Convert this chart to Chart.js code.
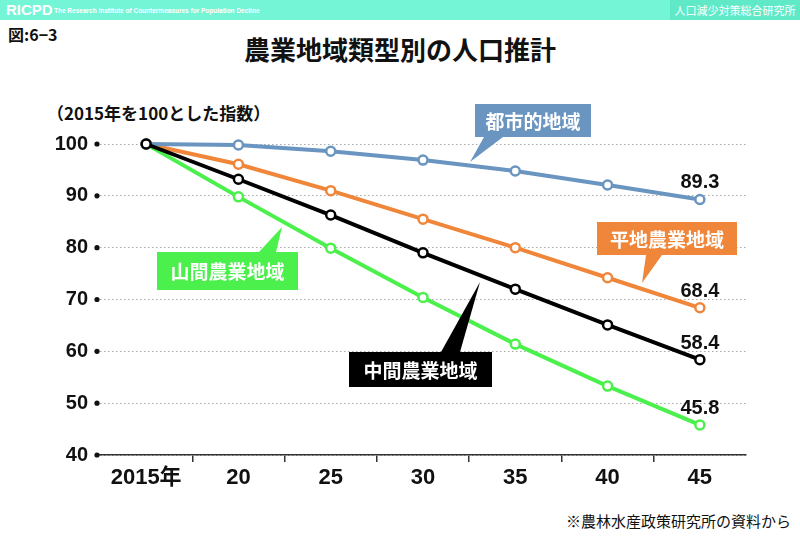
<!DOCTYPE html>
<html lang="ja">
<head>
<meta charset="utf-8">
<script src="https://cdn.jsdelivr.net/npm/chart.js@4"></script>
<style>
  body { margin: 0; background: #fff; font-family: "Noto Sans CJK JP", "Noto Sans", sans-serif; }
  #wrap { position: relative; width: 800px; height: 538px; overflow: hidden; }
  #chart { position: absolute; left: 0; top: 0; }
  .bar { position: absolute; left: 0; top: 0; width: 800px; height: 20px; background: #74f5d6; }
  .bar .logo { position: absolute; left: 6px; top: 0px; color: #fff; font: bold 15px "Liberation Sans", sans-serif; line-height: 20px; }
  .bar .sub { position: absolute; left: 54px; top: 6px; color: #fff; font: bold 6.5px "Liberation Sans Narrow", "Liberation Sans", sans-serif; line-height: 10px; }
  .bar .inst { position: absolute; right: 0; top: 0; width: 130px; height: 20px; background: #5fe9c7; color: #fff; font-size: 11px; line-height: 20px; text-align: center; }
  .fig { position: absolute; left: 8px; top: 22px; font-size: 16px; font-weight: bold; color: #111; }
  .title { position: absolute; left: 0; width: 800px; top: 30px; text-align: center; font-size: 26px; font-weight: bold; color: #111; }
  .unit { position: absolute; left: 47px; top: 100px; font-size: 17px; font-weight: bold; color: #111; }
  .note { position: absolute; right: 9px; top: 510px; font-size: 15px; color: #111; }
</style>
</head>
<body>
<div id="wrap">
  <div class="bar">
    <span class="logo">RICPD</span>
    <span class="sub">The Research Institute of Countermeasures for Population Decline</span>
    <span class="inst">人口減少対策総合研究所</span>
  </div>
  <div class="fig">図:6−3</div>
  <div class="title">農業地域類型別の人口推計</div>
  <div class="unit">（2015年を100とした指数）</div>
  <div class="note">※農林水産政策研究所の資料から</div>
  <canvas id="chart" width="800" height="538"></canvas>
</div>
<script>
const years = ['2015年', '20', '25', '30', '35', '40', '45'];
const urban = [100, 99.8, 98.6, 96.9, 94.8, 92.1, 89.3];
const flatFarm = [100, 96.1, 91.0, 85.5, 80.0, 74.2, 68.4];
const middleFarm = [100, 93.2, 86.3, 79.0, 72.0, 65.1, 58.4];
const mountainFarm = [100, 89.8, 79.9, 70.4, 61.4, 53.3, 45.8];
const yTicks = [40, 50, 60, 70, 80, 90, 100];

const BLUE = '#6a95c0', ORANGE = '#f0863a', BLACK = '#000', GREEN = '#4cf04c';

function line(label, data, color) {
  return {
    label, data,
    borderColor: color,
    borderWidth: 4,
    pointRadius: 4.5,
    pointBorderWidth: 2.5,
    pointBackgroundColor: '#fff',
    pointBorderColor: color,
    tension: 0,
    clip: false
  };
}

// callout boxes with a pointer
const callouts = [
  { text: '都市的地域', bg: BLUE, box: [475, 104, 116, 33], tri: [[484, 137], [503, 137], [470, 162]] },
  { text: '平地農業地域', bg: ORANGE, box: [597, 222, 140, 33], tri: [[646, 255], [662, 255], [642, 283]] },
  { text: '山間農業地域', bg: GREEN, box: [157, 252, 141, 38], tri: [[259, 252], [276, 252], [282, 227]] },
  { text: '中間農業地域', bg: BLACK, box: [349, 352, 143, 35], tri: [[441, 352], [460, 352], [480, 282]] }
];

const extras = {
  id: 'extras',
  afterDatasetsDraw(chart) {
    const ctx = chart.ctx;
    const y = chart.scales.y;
    const left = chart.chartArea.left;
    ctx.save();
    // bullets on the y axis
    ctx.fillStyle = '#111';
    yTicks.forEach(v => {
      ctx.beginPath();
      ctx.arc(left - 3, y.getPixelForValue(v), 2.6, 0, Math.PI * 2);
      ctx.fill();
    });
    // end values
    ctx.font = 'bold 20px "Liberation Sans", sans-serif';
    ctx.textAlign = 'center';
    ctx.textBaseline = 'alphabetic';
    chart.data.datasets.forEach((ds, i) => {
      const pts = chart.getDatasetMeta(i).data;
      const p = pts[pts.length - 1];
      const v = ds.data[ds.data.length - 1];
      ctx.fillStyle = '#111';
      ctx.fillText(v.toFixed(1), p.x, p.y - 11);
    });
    // callouts
    ctx.font = 'bold 19px "Noto Sans CJK JP", sans-serif';
    ctx.textBaseline = 'middle';
    callouts.forEach(c => {
      ctx.fillStyle = c.bg;
      ctx.beginPath();
      ctx.moveTo(c.tri[0][0], c.tri[0][1]);
      ctx.lineTo(c.tri[1][0], c.tri[1][1]);
      ctx.lineTo(c.tri[2][0], c.tri[2][1]);
      ctx.closePath();
      ctx.fill();
      const [bx, by, bw, bh] = c.box;
      ctx.fillRect(bx, by, bw, bh);
      ctx.fillStyle = '#fff';
      ctx.fillText(c.text, bx + bw / 2, by + bh / 2 + 1);
    });
    ctx.restore();
  }
};

new Chart(document.getElementById('chart'), {
  type: 'line',
  data: {
    labels: years,
    datasets: [
      line('中間農業地域', middleFarm, BLACK),
      line('都市的地域', urban, BLUE),
      line('平地農業地域', flatFarm, ORANGE),
      line('山間農業地域', mountainFarm, GREEN)
    ]
  },
  options: {
    responsive: false,
    animation: false,
    layout: { padding: { top: 144, right: 54, bottom: 43, left: 0 } },
    plugins: { legend: { display: false }, tooltip: { enabled: false } },
    scales: {
      x: {
        offset: true,
        afterFit: s => { s.height = 40; },
        grid: {
          offset: true,
          drawOnChartArea: false,
          drawTicks: true,
          tickLength: 7,
          lineWidth: 1.5,
          color: c => (c.index === undefined || c.index === 0) ? 'rgba(0,0,0,0)' : '#333'
        },
        border: { display: true, color: '#333', width: 1.5 },
        ticks: {
          color: '#111',
          padding: 3,
          maxRotation: 0,
          font: { family: '"Liberation Sans Narrow", "Liberation Sans", "Noto Sans CJK JP", sans-serif', size: 22, weight: 'bold' }
        }
      },
      y: {
        min: 40,
        max: 100,
        afterFit: s => { s.width = 100; },
        grid: { color: '#a8a8a8', lineWidth: 1, drawTicks: false },
        border: { display: false, dash: [1.5, 2.5] },
        ticks: {
          stepSize: 10,
          padding: 12,
          color: '#111',
          font: { family: '"Liberation Sans", sans-serif', size: 20, weight: 'bold' }
        }
      }
    }
  },
  plugins: [extras]
});
</script>
</body>
</html>
